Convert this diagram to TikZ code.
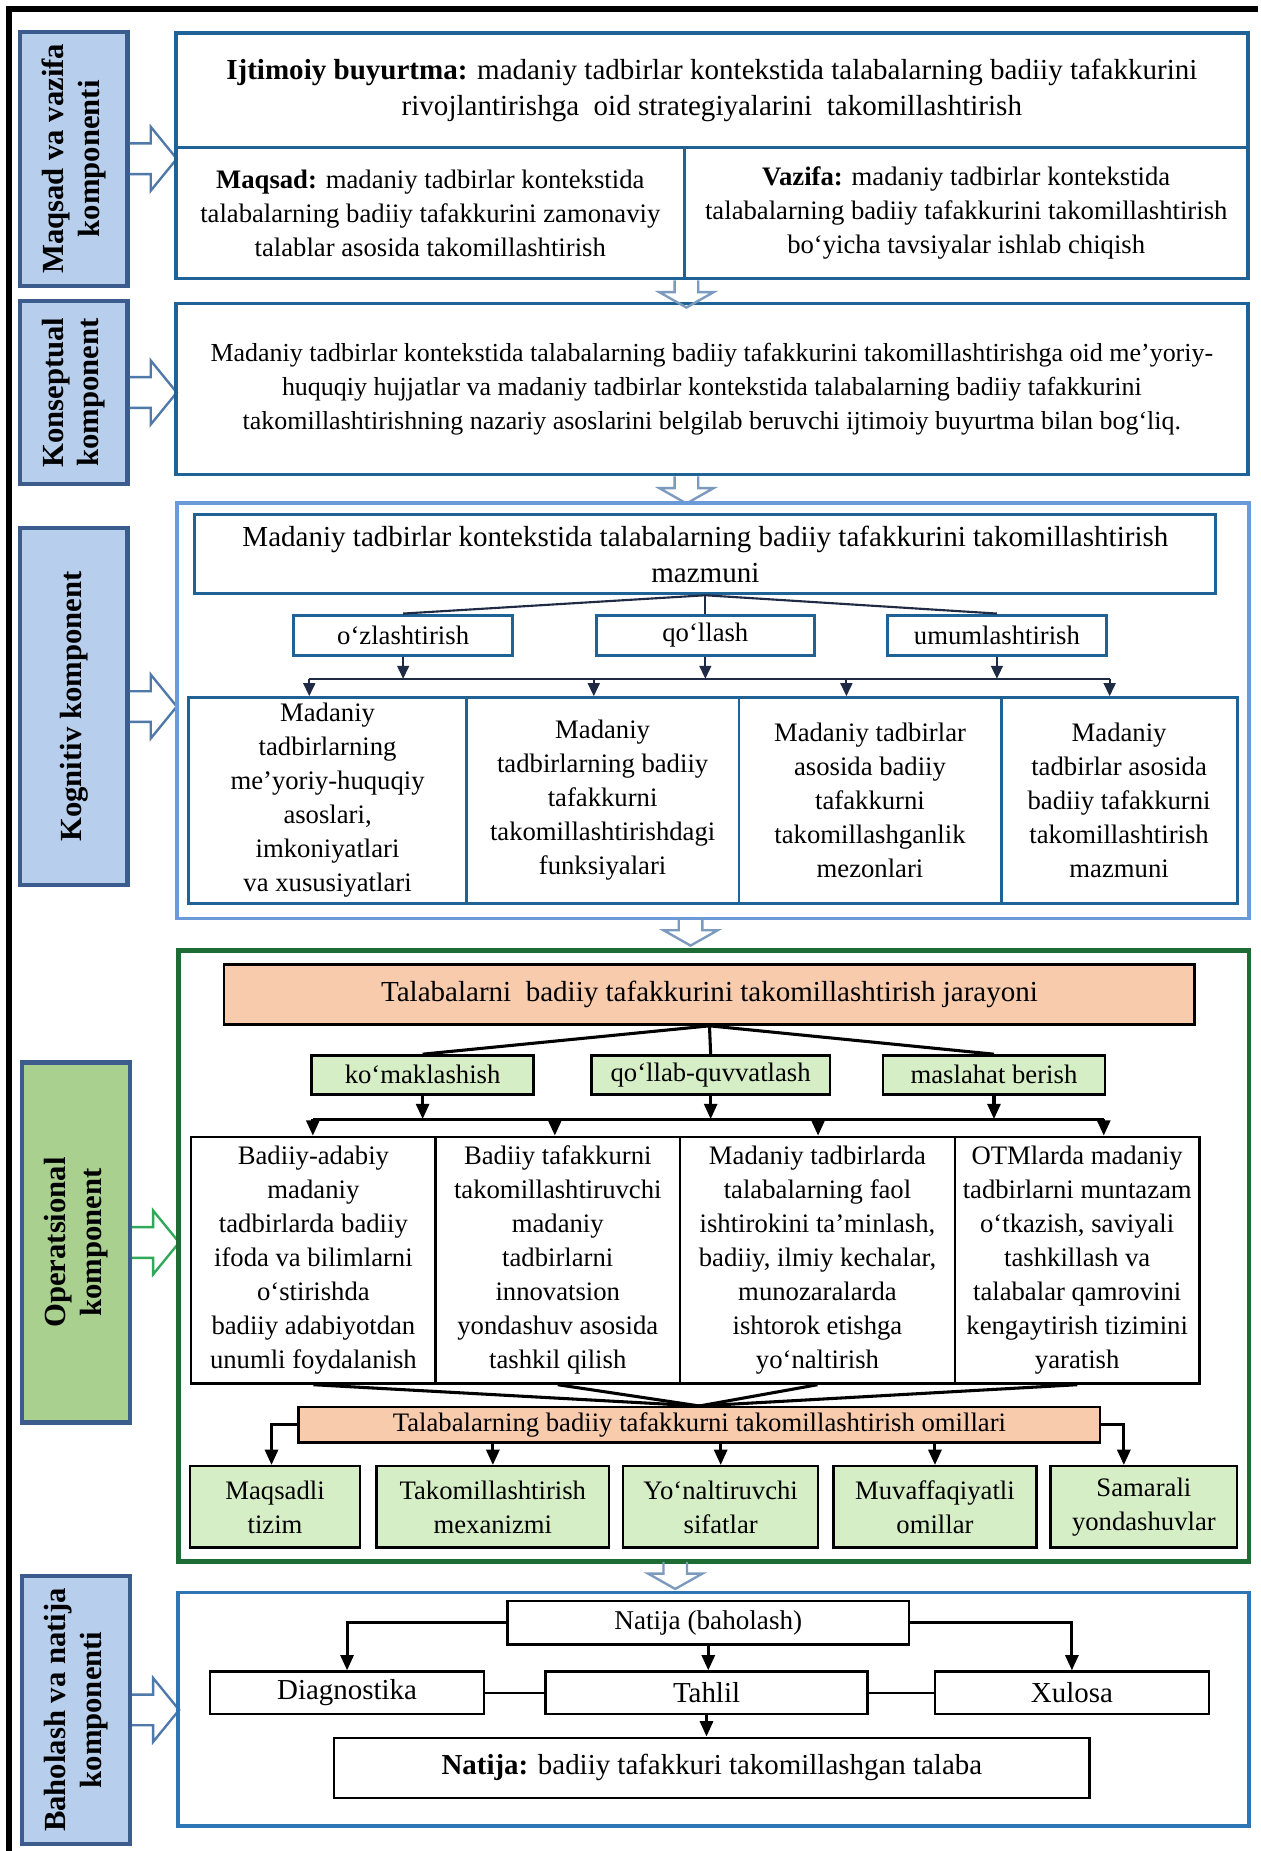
\documentclass[tikz,border=0pt]{standalone}
\usepackage{fontspec}
\setmainfont{Liberation Serif}
\usetikzlibrary{arrows.meta}

\definecolor{labblue}{RGB}{59,92,140}
\definecolor{labfill}{RGB}{183,207,236}
\definecolor{opfill}{RGB}{169,208,142}
\definecolor{deepblue}{RGB}{31,99,150}
\definecolor{skyblue}{RGB}{106,155,216}
\definecolor{midblue}{RGB}{46,117,182}
\definecolor{navy}{RGB}{31,42,68}
\definecolor{darkgreen}{RGB}{30,107,52}
\definecolor{peach}{RGB}{248,203,173}
\definecolor{mint}{RGB}{214,238,198}
\definecolor{arrblue}{RGB}{79,121,168}
\definecolor{arrgreen}{RGB}{47,168,90}

\newcommand{\bodyfs}{\fontsize{22.6pt}{28.8pt}\selectfont}
\newcommand{\bigfs}{\fontsize{24.6pt}{31pt}\selectfont}
\newcommand{\labfs}{\fontsize{26pt}{30pt}\selectfont\bfseries}

\tikzset{
  lab/.style={draw=labblue, line width=3.5pt, fill=labfill, rotate=90, font=\labfs, align=center, inner sep=0pt},
  cell/.style={draw=deepblue, line width=3pt, align=center, inner sep=0pt, font=\bodyfs},
  kbox/.style={draw=deepblue, line width=2.5pt, align=center, inner sep=0pt, font=\bodyfs},
  obox/.style={draw=black, line width=2pt, align=center, inner sep=0pt, font=\bodyfs},
  frame/.style={line width=3pt, inner sep=0pt},
  kline/.style={draw=navy, line width=1.8pt},
  karr/.style={kline, -{Triangle[length=11pt,width=10pt]}},
  oline/.style={line width=2.6pt},
  oarr/.style={oline, -{Triangle[length=13pt,width=11pt]}},
  hright/.pic={\draw (0,-13) -- (18,-13) -- (18,-27) -- (40,0) -- (18,27) -- (18,13) -- (0,13);},
  hdown/.pic={\draw (-10,0) -- (-10,10) -- (-23,10) -- (0,23) -- (23,10) -- (10,10) -- (10,0);}
}

\begin{document}
\begin{tikzpicture}[x=1pt,y=-1pt]

  \fill[white] (0,0) rectangle (1068,1568);
  \useasboundingbox (0,0) rectangle (1068,1568);
  \draw[line width=5pt] (8,1568) -- (8,8) -- (1066,8);

  \node[lab, minimum width=215, minimum height=91] (L1) at (62.5,134.5) {Maqsad va vazifa\\komponenti};
  \node[lab, minimum width=155, minimum height=91] (L2) at (62.5,332.5) {Konseptual\\komponent};
  \node[lab, minimum width=303, minimum height=91] (L3) at (62.5,598.5) {Kognitiv komponent};
  \node[lab, fill=opfill, minimum width=305, minimum height=91] (L4) at (64.5,1052.5) {Operatsional\\komponent};
  \node[lab, minimum width=227, minimum height=91] (L5) at (64.5,1448.5) {Baholash va natija\\komponenti};

  \foreach \n in {L1,L2,L3,L5} \pic[color=arrblue, line width=2pt] at (\n.south) {hright};
  \pic[color=arrgreen, line width=2pt] at (L4.south) {hright};

  \node[cell, minimum width=908, minimum height=97, font=\bigfs] (ijt) at (603,76.5)
    {\textbf{Ijtimoiy buyurtma:} madaniy tadbirlar kontekstida talabalarning badiiy tafakkurini\\rivojlantirishga\ \ oid strategiyalarini\ \ takomillashtirish};
  \node[cell, minimum width=431, minimum height=111] (maq) at (364.5,180.5)
    {\textbf{Maqsad:} madaniy tadbirlar kontekstida\\talabalarning badiiy tafakkurini zamonaviy\\talablar asosida takomillashtirish};
  \node[cell, minimum width=477, minimum height=111] (vaz) at (818.5,180.5)
    {\textbf{Vazifa:} madaniy tadbirlar kontekstida\\talabalarning badiiy tafakkurini takomillashtirish\\bo‘yicha tavsiyalar ishlab chiqish};

  \node[cell, minimum width=908, minimum height=145, font=\fontsize{22pt}{29pt}\selectfont] (kons) at (603,329.5)
    {Madaniy tadbirlar kontekstida talabalarning badiiy tafakkurini takomillashtirishga oid me’yoriy-\\huquqiy hujjatlar va madaniy tadbirlar kontekstida talabalarning badiiy tafakkurini\\takomillashtirishning nazariy asoslarini belgilab beruvchi ijtimoiy buyurtma bilan bog‘liq.};

  \pic[color=arrblue!75, line width=2pt] at (maq.south east) {hdown};
  \pic[color=arrblue!75, line width=2pt] at (kons.south -| maq.south east) {hdown};

  \node[frame, draw=skyblue, minimum width=908, minimum height=352] (kog) at (604,602) {};
  \node[kbox, minimum width=865, minimum height=67, font=\bigfs] (kt) at (597.5,469.5)
    {Madaniy tadbirlar kontekstida talabalarning badiiy tafakkurini takomillashtirish\\mazmuni};
  \foreach \n/\x/\txt in {oz/341.5/o‘zlashtirish, ql/597.5/qo‘llash, um/844.5/umumlashtirish}
    \node[kbox, minimum width=185, minimum height=34] (\n) at (\x,538) {\txt};
  \node[kbox, minimum width=235, minimum height=174] (k1) at (277.5,678)
    {Madaniy\\tadbirlarning\\me’yoriy-huquqiy\\asoslari,\\imkoniyatlari\\va xususiyatlari};
  \node[kbox, minimum width=231, minimum height=174] (k2) at (510.5,678)
    {Madaniy\\tadbirlarning badiiy\\tafakkurni\\takomillashtirishdagi\\funksiyalari};
  \node[kbox, minimum width=222, minimum height=174] (k3) at (737,678)
    {Madaniy tadbirlar\\asosida badiiy\\tafakkurni\\takomillashganlik\\mezonlari};
  \node[kbox, minimum width=200, minimum height=174] (k4) at (948,678)
    {Madaniy\\tadbirlar asosida\\badiiy tafakkurni\\takomillashtirish\\mazmuni};

  \coordinate (kbl) at (262,575);
  \coordinate (kbr) at (940,575);
  \draw[kline] (kbl) -- (kbr);
  \foreach \n in {oz,ql,um} {
    \draw[kline] (kt.south) -- (\n.north);
    \draw[karr] (\n.south) -- (\n.south |- kbl);
  }
  \foreach \x/\n in {262/k1,503/k2,717/k3,940/k4} {
    \coordinate (t\n) at (\x,575);
    \draw[karr] (t\n) -- (t\n |- \n.north);
  }

  \pic[color=arrblue!75, line width=2pt] at (585,778) {hdown};

  \node[frame, draw=darkgreen, line width=4pt, minimum width=907, minimum height=518] (op) at (604.5,1064) {};
  \node[obox, fill=peach, minimum width=822, minimum height=51, font=\bigfs] (jar) at (601,842.5)
    {Talabalarni\ \ badiiy tafakkurini takomillashtirish jarayoni};
  \foreach \n/\x/\w/\txt in {km/358/188/ko‘maklashish, qq/602/202/qo‘llab-quvvatlash, mb/842/188/maslahat berish}
    \node[obox, fill=mint, minimum width=\w, minimum height=33] (\n) at (\x,910.5) {\txt};
  \node[obox, minimum width=207, minimum height=209] (o1) at (265.5,1067.5)
    {Badiiy-adabiy\\madaniy\\tadbirlarda badiiy\\ifoda va bilimlarni\\o‘stirishda\\badiiy adabiyotdan\\unumli foydalanish};
  \node[obox, minimum width=207, minimum height=209] (o2) at (472.5,1067.5)
    {Badiiy tafakkurni\\takomillashtiruvchi\\madaniy\\tadbirlarni\\innovatsion\\yondashuv asosida\\tashkil qilish};
  \node[obox, minimum width=233, minimum height=209] (o3) at (692.5,1067.5)
    {Madaniy tadbirlarda\\talabalarning faol\\ishtirokini ta’minlash,\\badiiy, ilmiy kechalar,\\munozaralarda\\ishtorok etishga\\yo‘naltirish};
  \node[obox, minimum width=207, minimum height=209] (o4) at (912.5,1067.5)
    {OTMlarda madaniy\\tadbirlarni muntazam\\o‘tkazish, saviyali\\tashkillash va\\talabalar qamrovini\\kengaytirish tizimini\\yaratish};

  \coordinate (obl) at (265,948);
  \coordinate (obr) at (935,948);
  \draw[oline] (obl) -- (obr);
  \foreach \n in {km,qq,mb} {
    \draw[oline] (jar.south) -- (\n.north);
    \draw[oarr] (\n.south) -- (\n.south |- obl);
  }
  \foreach \x/\n in {265/o1,470/o2,693/o3,935/o4} {
    \coordinate (t\n) at (\x,948);
    \draw[oarr] (t\n) -- (t\n |- \n.north);
  }

  \node[obox, fill=peach, minimum width=679, minimum height=30] (om) at (592.5,1207)
    {Talabalarning badiiy tafakkurni takomillashtirish omillari};
  \foreach \n in {o1,o2,o3,o4} \draw[oline] (\n.south) -- (om.north);
  \foreach \n/\x/\w/\txt in {g1/233/144/Maqsadli\\tizim, g2/417.5/197/Takomillashtirish\\mexanizmi,
      g3/610.5/165/Yo‘naltiruvchi\\sifatlar, g4/792/172/Muvaffaqiyatli\\omillar, g5/969/158/Samarali\\yondashuvlar}
    \node[obox, fill=mint, minimum width=\w, minimum height=69] (\n) at (\x,1276.5) {\txt};

  \coordinate (gl) at (230,1207);
  \coordinate (gr) at (952,1207);
  \draw[oarr] (om.west) -- (gl) -- (gl |- g1.north);
  \draw[oarr] (om.east) -- (gr) -- (gr |- g5.north);
  \foreach \n in {g2,g3,g4} \draw[oarr] (\n.north |- om.south) -- (\n.north);

  \pic[color=arrblue!75, line width=2pt] at (572,1323) {hdown};

  \node[frame, draw=midblue, minimum width=907, minimum height=198] (bah) at (604.5,1448) {};
  \node[obox, minimum width=340, minimum height=37, font=\fontsize{23pt}{28pt}\selectfont] (nb) at (600,1374.5) {Natija (baholash)};
  \node[obox, minimum width=232, minimum height=36, font=\fontsize{24.5pt}{29pt}\selectfont] (dg) at (294,1434) {Diagnostika};
  \node[obox, minimum width=273, minimum height=36, font=\fontsize{24.5pt}{29pt}\selectfont] (th) at (598.5,1434) {Tahlil};
  \node[obox, minimum width=232, minimum height=36, font=\fontsize{24.5pt}{29pt}\selectfont] (xl) at (908,1434) {Xulosa};
  \node[obox, minimum width=640, minimum height=51, font=\fontsize{24.5pt}{29pt}\selectfont] (nt) at (603,1497.5)
    {\textbf{Natija:} badiiy tafakkuri takomillashgan talaba};

  \draw[oarr] (nb.west) -| (dg.north);
  \draw[oarr] (nb.east) -| (xl.north);
  \draw[oarr] (nb.south) -- (nb.south |- th.north);
  \draw[line width=2pt] (dg.east) -- (th.west);
  \draw[line width=2pt] (th.east) -- (xl.west);
  \draw[oarr] (th.south) -- (th.south |- nt.north);

\end{tikzpicture}
\end{document}
